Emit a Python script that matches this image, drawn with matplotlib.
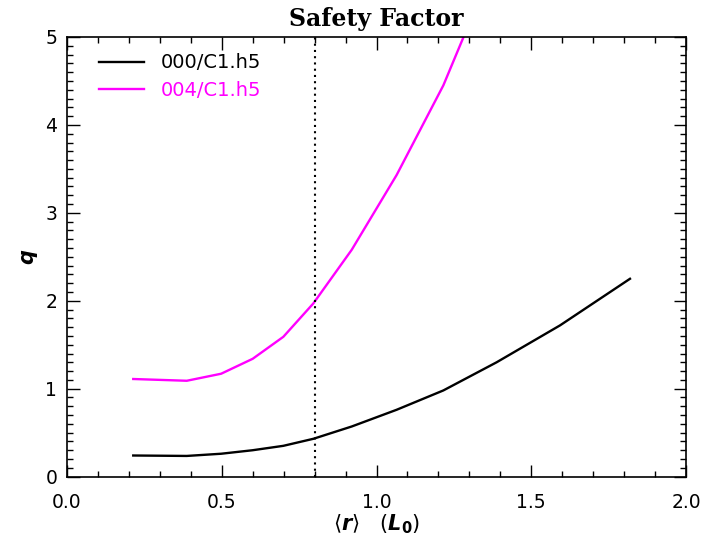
import matplotlib
matplotlib.use("Agg")
import matplotlib.pyplot as plt
from matplotlib.ticker import MultipleLocator

r_000 = [0.214, 0.387, 0.498, 0.600, 0.699, 0.796, 0.920, 1.065, 1.216, 1.388, 1.593, 1.819]
q_000 = [0.24, 0.235, 0.26, 0.30, 0.35, 0.43, 0.57, 0.76, 0.98, 1.30, 1.72, 2.25]
r_004 = [0.214, 0.387, 0.498, 0.600, 0.699, 0.796, 0.920, 1.065, 1.216, 1.388]
q_004 = [1.11, 1.09, 1.17, 1.34, 1.59, 1.97, 2.58, 3.43, 4.45, 5.90]
labels = ["000/C1.h5", "004/C1.h5"]
colors = ["black", "#ff00ff"]
r_mark = 0.8

fig = plt.figure(figsize=(7.12, 5.36), dpi=100)
ax = fig.add_axes([67/712, 1-476.6/536, (686-67)/712, (476.6-37)/536])

ax.plot(r_000, q_000, color=colors[0], lw=1.7, label=labels[0])
ax.plot(r_004, q_004, color=colors[1], lw=1.7, label=labels[1])
ax.axvline(r_mark, color="black", lw=1.5, ls=(0, (1, 2.0)))

ax.set_xlim(0, 2)
ax.set_ylim(0, 5)
ax.xaxis.set_major_locator(MultipleLocator(0.5))
ax.xaxis.set_minor_locator(MultipleLocator(0.1))
ax.yaxis.set_major_locator(MultipleLocator(1))
ax.yaxis.set_minor_locator(MultipleLocator(0.1))
ax.xaxis.set_major_formatter(plt.FormatStrFormatter("%.1f"))
ax.tick_params(which="both", direction="in", top=True, right=True, labelsize=13.5, width=1)
ax.tick_params(which="major", length=9)
ax.tick_params(which="minor", length=4.5)
ax.tick_params(axis="x", which="major", pad=12)
ax.tick_params(axis="y", which="major", pad=7)
for s in ax.spines.values():
    s.set_linewidth(1.2)

ax.set_title("Safety Factor", fontsize=17, fontweight="bold", family="DejaVu Serif", pad=8)
ax.set_xlabel(r"$\langle \boldsymbol{r} \rangle$   $(\boldsymbol{L}_\mathbf{0})$", fontsize=15, labelpad=0)
ax.set_ylabel(r"$\boldsymbol{q}$", fontsize=15, labelpad=4)

leg = ax.legend(loc="upper left", frameon=False, fontsize=14, handlelength=2.3,
                handletextpad=0.9, borderaxespad=0.6, labelspacing=0.45,
                bbox_to_anchor=(0.02, 1.007))
for t, c in zip(leg.get_texts(), colors):
    t.set_color(c)

fig.savefig("out.png", dpi=100)
